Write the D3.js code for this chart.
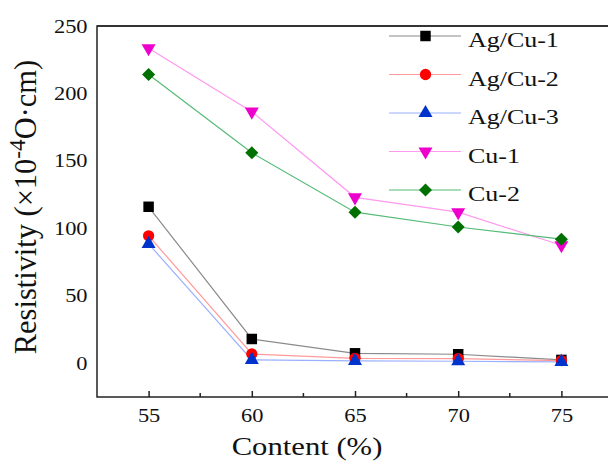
<!DOCTYPE html>
<html>
<head>
<meta charset="utf-8">
<script src="https://cdn.jsdelivr.net/npm/d3@7"></script>
<style>
body { margin: 0; background: #fff; }
text { font-family: "Liberation Serif", "Times New Roman", serif; fill: #111; }
</style>
</head>
<body>
<div id="chart"></div>
<script>
// data
var contents = [55, 60, 65, 70, 75];
var agcu1 = [116, 18, 7.4, 6.7, 2.5];
var agcu2 = [94.5, 6.9, 3.7, 3.5, 2];
var agcu3 = [88.5, 2.5, 1.8, 1.5, 1];
var cu1 = [233.5, 186.5, 123, 112, 87.5];
var cu2 = [214, 156, 112, 101, 92];
var xTicks = [55, 60, 65, 70, 75];
var xMinor = [57.5, 62.5, 67.5, 72.5];
var yTicks = [0, 50, 100, 150, 200, 250];

var series = [
  { name: "Ag/Cu-1", values: agcu1, line: "#8a8a8a", fill: "#000000", shape: d3.symbolSquare, size: 110, rot: 0 },
  { name: "Ag/Cu-2", values: agcu2, line: "#ff9a9a", fill: "#ff0000", shape: d3.symbolCircle, size: 100, rot: 0 },
  { name: "Ag/Cu-3", values: agcu3, line: "#9ab0ff", fill: "#0033cc", shape: d3.symbolTriangle, size: 85, rot: 0 },
  { name: "Cu-1", values: cu1, line: "#ff99ee", fill: "#ee00cc", shape: d3.symbolTriangle, size: 85, rot: 180 },
  { name: "Cu-2", values: cu2, line: "#55bb77", fill: "#007000", shape: d3.symbolSquare, size: 85, rot: 45 }
];

var W = 608, H = 463;
var svg = d3.select("#chart").append("svg").attr("width", W).attr("height", H);

var x = d3.scaleLinear().domain([52.5, 77.5]).range([97, 613]);
var y = d3.scaleLinear().domain([-25, 250]).range([397, 26]);
var sx = 1.18; // text in the picture is a bit wide

// frame
svg.append("rect")
  .attr("x", 97).attr("y", 26)
  .attr("width", 613 - 97).attr("height", 397 - 26)
  .attr("fill", "none").attr("stroke", "#222").attr("stroke-width", 1.5);
svg.append("line").attr("x1", 97).attr("x2", 613).attr("y1", 26).attr("y2", 26)
  .attr("stroke", "#333").attr("stroke-width", 2.2);

// x axis, ticks pointing in
var xAxis = svg.append("g").attr("transform", "translate(0,397)")
  .call(d3.axisBottom(x).tickValues(xTicks).tickSizeInner(-6).tickSizeOuter(0).tickPadding(12));
xAxis.select(".domain").remove();
xAxis.selectAll(".tick line").attr("stroke", "#222").attr("stroke-width", 1.5);
xAxis.selectAll(".tick text")
  .attr("font-size", 19).attr("font-family", "Liberation Serif").attr("fill", "#111")
  .attr("transform", "scale(" + sx + ",1)");
svg.append("g").selectAll("line").data(xMinor).enter().append("line")
  .attr("x1", function(d) { return x(d); }).attr("x2", function(d) { return x(d); })
  .attr("y1", 397).attr("y2", 393)
  .attr("stroke", "#222").attr("stroke-width", 1.5);

// y axis labels
var yAxis = svg.append("g").attr("transform", "translate(97,0)")
  .call(d3.axisLeft(y).tickValues(yTicks).tickSize(0).tickPadding(8));
yAxis.select(".domain").remove();
yAxis.selectAll(".tick text")
  .attr("font-size", 19).attr("font-family", "Liberation Serif").attr("fill", "#111")
  .attr("transform", "scale(" + sx + ",1)");

// axis titles
svg.append("text")
  .attr("transform", "translate(307,455) scale(" + sx + ",1)")
  .attr("text-anchor", "middle").attr("font-size", 26)
  .text("Content (%)");

var yt = svg.append("text")
  .attr("transform", "translate(36,207) rotate(-90) scale(1.17,1.18)")
  .attr("text-anchor", "middle").attr("font-size", 26);
yt.append("tspan").text("Resistivity (×10");
yt.append("tspan").attr("dy", -9).attr("font-size", 20).text("-4");
yt.append("tspan").attr("dy", 9).text("O·cm)");

// lines and markers
var line = d3.line()
  .x(function(d, i) { return x(contents[i]); })
  .y(function(d) { return y(d); });

series.forEach(function(s) {
  svg.append("path")
    .attr("d", line(s.values))
    .attr("fill", "none").attr("stroke", s.line).attr("stroke-width", 1.2);
});
series.forEach(function(s) {
  var sym = d3.symbol().type(s.shape).size(s.size);
  svg.append("g").selectAll("path").data(s.values).enter().append("path")
    .attr("d", sym)
    .attr("transform", function(d, i) {
      return "translate(" + x(contents[i]) + "," + y(d) + ") rotate(" + s.rot + ")";
    })
    .attr("fill", s.fill);
});

// legend
var lg = svg.append("g");
series.forEach(function(s, i) {
  var ly = 36 + i * 38.5;
  lg.append("line").attr("x1", 389).attr("x2", 461).attr("y1", ly).attr("y2", ly)
    .attr("stroke", s.line).attr("stroke-width", 1.2);
  lg.append("path").attr("d", d3.symbol().type(s.shape).size(s.size))
    .attr("transform", "translate(425.5," + ly + ") rotate(" + s.rot + ")")
    .attr("fill", s.fill);
  lg.append("text")
    .attr("transform", "translate(468," + (ly + 11) + ") scale(" + sx + ",1)")
    .attr("font-size", 22)
    .text(s.name);
});
</script>
</body>
</html>
